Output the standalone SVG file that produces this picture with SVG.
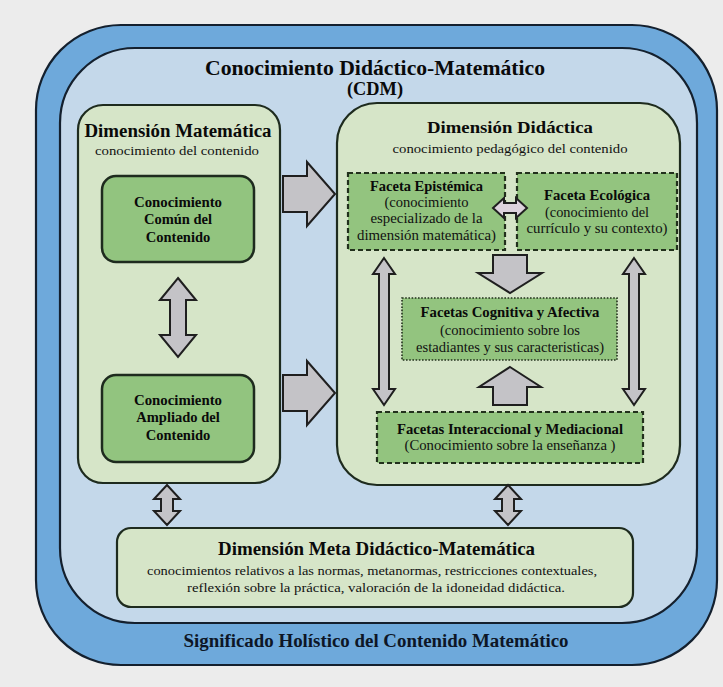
<svg xmlns="http://www.w3.org/2000/svg" width="723" height="687" viewBox="0 0 723 687">
<style>
text{font-family:'Liberation Serif','Times New Roman',serif;fill:#111;text-anchor:middle}
.b{font-weight:bold;fill:#0a0a0a}
.dim{fill:#d6e5c8;stroke:#1e2b1e;stroke-width:2.2}
.solid{fill:#92c47f;stroke:#1e2b1e;stroke-width:2.5}
.dash{fill:#93c47f;stroke:#22301c;stroke-width:2.2;stroke-dasharray:5,3}
.dot{fill:#93c47f;stroke:#22301c;stroke-width:1.6;stroke-dasharray:1.6,1.6}
.arr{fill:#c4c3c7;stroke:#1f1f1f;stroke-width:2;stroke-linejoin:miter}
.arr2{fill:#ddd3dd;stroke:#1f1f1f;stroke-width:2}
</style>
<rect width="723" height="687" fill="#ececec"/>
<g id="cdm">
<rect x="36" y="25" width="681" height="640" rx="85" fill="#6ea9db" stroke="#14202e" stroke-width="2.2"/>
<rect x="60" y="48" width="637" height="575" rx="75" fill="#c4d8ea" stroke="#14202e" stroke-width="2.2"/>
<text x="375" y="75" class="b" font-size="22" textLength="340" lengthAdjust="spacingAndGlyphs">Conocimiento Didáctico-Matemático</text>
<text x="375" y="95" class="b" font-size="18" textLength="56" lengthAdjust="spacingAndGlyphs">(CDM)</text>
<text x="376" y="647" class="b" font-size="18" style="fill:#0d1626" textLength="385" lengthAdjust="spacingAndGlyphs">Significado Holístico del Contenido Matemático</text>
</g>
<g id="dim-matematica">
<rect class="dim" x="78" y="105" width="202" height="378" rx="25"/>
<text x="178" y="137" class="b" font-size="18" textLength="187" lengthAdjust="spacingAndGlyphs">Dimensión Matemática</text>
<text x="177" y="155" font-size="13.5" textLength="164" lengthAdjust="spacingAndGlyphs">conocimiento del contenido</text>
</g>
<g id="conocimiento-comun">
<rect class="solid" x="102" y="176" width="152" height="86" rx="14"/>
<text x="178" y="207" class="b" font-size="14.5" textLength="88" lengthAdjust="spacingAndGlyphs">Conocimiento</text>
<text x="178" y="224" class="b" font-size="14.5">Común del</text>
<text x="178" y="242" class="b" font-size="14.5">Contenido</text>
</g>
<g id="conocimiento-ampliado">
<rect class="solid" x="102" y="375" width="152" height="87" rx="14"/>
<text x="178" y="405" class="b" font-size="14.5" textLength="88" lengthAdjust="spacingAndGlyphs">Conocimiento</text>
<text x="178" y="422" class="b" font-size="14.5">Ampliado del</text>
<text x="178" y="440" class="b" font-size="14.5">Contenido</text>
</g>
<g id="dim-didactica">
<rect class="dim" x="337" y="103" width="343" height="382" rx="40"/>
<text x="510" y="133" class="b" font-size="17.5" textLength="166" lengthAdjust="spacingAndGlyphs">Dimensión Didáctica</text>
<text x="510" y="153" font-size="13.5" textLength="235" lengthAdjust="spacingAndGlyphs">conocimiento pedagógico del contenido</text>
</g>
<g id="faceta-epistemica">
<rect class="dash" x="348" y="173" width="157" height="77"/>
<text x="426.5" y="191" class="b" font-size="14" textLength="113" lengthAdjust="spacingAndGlyphs">Faceta Epistémica</text>
<text x="426.5" y="207" font-size="14" textLength="84" lengthAdjust="spacingAndGlyphs">(conocimiento</text>
<text x="426.5" y="223" font-size="14" textLength="112" lengthAdjust="spacingAndGlyphs">especializado de la</text>
<text x="426.5" y="240" font-size="14" textLength="139" lengthAdjust="spacingAndGlyphs">dimensión matemática)</text>
</g>
<g id="faceta-ecologica">
<rect class="dash" x="517" y="173" width="160" height="77"/>
<text x="597" y="200" class="b" font-size="14" textLength="106" lengthAdjust="spacingAndGlyphs">Faceta Ecológica</text>
<text x="597" y="217" font-size="14" textLength="104" lengthAdjust="spacingAndGlyphs">(conocimiento del</text>
<text x="597" y="233" font-size="14" textLength="141" lengthAdjust="spacingAndGlyphs">currículo y su contexto)</text>
</g>
<g id="facetas-cognitiva">
<rect class="dot" x="402" y="298" width="215" height="62"/>
<text x="510" y="317" class="b" font-size="14" textLength="179" lengthAdjust="spacingAndGlyphs">Facetas Cognitiva y Afectiva</text>
<text x="510" y="335" font-size="14" textLength="140" lengthAdjust="spacingAndGlyphs">(conocimiento sobre los</text>
<text x="510" y="352" font-size="14" textLength="188" lengthAdjust="spacingAndGlyphs">estadiantes y sus caracteristicas)</text>
</g>
<g id="facetas-interaccional">
<rect class="dash" x="377" y="412" width="266" height="51"/>
<text x="510" y="434" class="b" font-size="14" textLength="226" lengthAdjust="spacingAndGlyphs">Facetas Interaccional y Mediacional</text>
<text x="510" y="450" font-size="14" textLength="211" lengthAdjust="spacingAndGlyphs">(Conocimiento sobre la enseñanza )</text>
</g>
<g id="dim-meta">
<rect class="dim" x="117" y="528" width="516" height="79" rx="14"/>
<text x="376.5" y="555" class="b" font-size="19" textLength="317" lengthAdjust="spacingAndGlyphs">Dimensión Meta Didáctico-Matemática</text>
<text x="372" y="575" font-size="13.5" textLength="450" lengthAdjust="spacingAndGlyphs">conocimientos relativos a las normas, metanormas, restricciones contextuales,</text>
<text x="376" y="592" font-size="13.5" textLength="378" lengthAdjust="spacingAndGlyphs">reflexión sobre la práctica, valoración de la idoneidad didáctica.</text>
</g>
<g id="connectors">
<polygon class="arr" points="283,176 307,176 307,162 335,194 307,226 307,212 283,212"/>
<polygon class="arr" points="283,375 307,375 307,361 335,393 307,425 307,411 283,411"/>
<polygon class="arr" points="178,278 196,300 186,300 186,335 196,335 178,357 160,335 170,335 170,300 160,300"/>
<polygon class="arr2" points="493,208 504,198 504,203 516,203 516,198 527,208 516,218 516,213 504,213 504,218"/>
<polygon class="arr" points="493,255 527,255 527,273 542,273 510,293 478,273 493,273"/>
<polygon class="arr" points="510,367 541,387 527,387 527,405 493,405 493,387 479,387"/>
<polygon class="arr" points="384,258 395,274 389,274 389,389 395,389 384,405 373,389 379,389 379,274 373,274"/>
<polygon class="arr" points="634,258 645,274 639,274 639,389 645,389 634,405 623,389 629,389 629,274 623,274"/>
<polygon class="arr" points="167,485 180,499 173,499 173,511 180,511 167,525 154,511 161,511 161,499 154,499"/>
<polygon class="arr" points="508,485 521,499 514,499 514,511 521,511 508,525 495,511 502,511 502,499 495,499"/>
</g>
</svg>
